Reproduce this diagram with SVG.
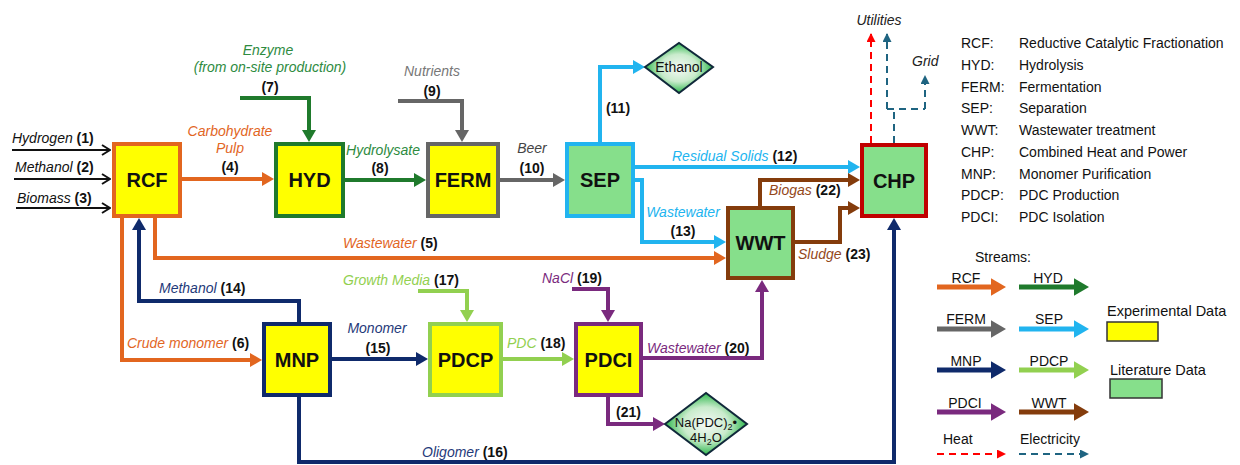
<svg xmlns="http://www.w3.org/2000/svg" width="1240" height="465" viewBox="0 0 1240 465">
<style>
.box{stroke-width:4}
.exp{fill:#FFFF00}
.lit{fill:#86DF8B}
.nt{font:bold 20px 'Liberation Sans',Arial,sans-serif;text-anchor:middle;fill:#111}
.lb{font:italic 14px 'Liberation Sans',Arial,sans-serif}
.mid{text-anchor:middle}
.n{font-style:normal;font-weight:bold;fill:#111}
.f{fill:none;stroke-width:4;stroke-linejoin:miter}
.thin{fill:none;stroke:#111;stroke-width:2}
.dash{fill:none;stroke-width:2;stroke-dasharray:7,5}
.lg{font:14px 'Liberation Sans',Arial,sans-serif;fill:#111}
.dt{font:13px 'Liberation Sans',Arial,sans-serif;fill:#111;text-anchor:middle}
.la{fill:none;stroke-width:5}
</style>
<defs>
<marker id="m-rcf" viewBox="0 0 3 3.5" refX="2" refY="1.75" markerWidth="3" markerHeight="3.5" orient="auto" markerUnits="strokeWidth"><path d="M0,0L3,1.75L0,3.5z" fill="#E2661F"/></marker>
<marker id="m-hyd" viewBox="0 0 3 3.5" refX="2" refY="1.75" markerWidth="3" markerHeight="3.5" orient="auto" markerUnits="strokeWidth"><path d="M0,0L3,1.75L0,3.5z" fill="#1F7A2C"/></marker>
<marker id="m-ferm" viewBox="0 0 3 3.5" refX="2" refY="1.75" markerWidth="3" markerHeight="3.5" orient="auto" markerUnits="strokeWidth"><path d="M0,0L3,1.75L0,3.5z" fill="#666666"/></marker>
<marker id="m-sep" viewBox="0 0 3 3.5" refX="2" refY="1.75" markerWidth="3" markerHeight="3.5" orient="auto" markerUnits="strokeWidth"><path d="M0,0L3,1.75L0,3.5z" fill="#21B4EF"/></marker>
<marker id="m-mnp" viewBox="0 0 3 3.5" refX="2" refY="1.75" markerWidth="3" markerHeight="3.5" orient="auto" markerUnits="strokeWidth"><path d="M0,0L3,1.75L0,3.5z" fill="#0F2A6B"/></marker>
<marker id="m-pdcp" viewBox="0 0 3 3.5" refX="2" refY="1.75" markerWidth="3" markerHeight="3.5" orient="auto" markerUnits="strokeWidth"><path d="M0,0L3,1.75L0,3.5z" fill="#92D050"/></marker>
<marker id="m-pdci" viewBox="0 0 3 3.5" refX="2" refY="1.75" markerWidth="3" markerHeight="3.5" orient="auto" markerUnits="strokeWidth"><path d="M0,0L3,1.75L0,3.5z" fill="#7A2A7E"/></marker>
<marker id="m-wwt" viewBox="0 0 3 3.5" refX="2" refY="1.75" markerWidth="3" markerHeight="3.5" orient="auto" markerUnits="strokeWidth"><path d="M0,0L3,1.75L0,3.5z" fill="#843C0C"/></marker>
<marker id="m-heat" viewBox="0 0 9 9" refX="8" refY="4.5" markerWidth="9" markerHeight="9" orient="auto" markerUnits="userSpaceOnUse"><path d="M0,0L9,4.5L0,9z" fill="#FF0000"/></marker>
<marker id="m-elec" viewBox="0 0 9 9" refX="8" refY="4.5" markerWidth="9" markerHeight="9" orient="auto" markerUnits="userSpaceOnUse"><path d="M0,0L9,4.5L0,9z" fill="#1F6481"/></marker>
<marker id="m-in" viewBox="0 0 10 12" refX="9" refY="6" markerWidth="10" markerHeight="12" orient="auto" markerUnits="userSpaceOnUse"><path d="M1,1L9,6L1,11" fill="none" stroke="#111" stroke-width="2"/></marker>
<radialGradient id="dg" cx="50%" cy="50%" r="50%">
<stop offset="0" stop-color="#F6F9F6"/>
<stop offset="0.55" stop-color="#C9EBCC"/>
<stop offset="1" stop-color="#2DB84C"/>
</radialGradient>
</defs>

<g id="connectors">
<path class="thin" d="M12,150H110" marker-end="url(#m-in)"/>
<path class="thin" d="M14,179H110" marker-end="url(#m-in)"/>
<path class="thin" d="M16,208H110" marker-end="url(#m-in)"/>
<path class="f" stroke="#E2661F" d="M182,179H270" marker-end="url(#m-rcf)"/>
<path class="f" stroke="#1F7A2C" d="M240,98H309V138" marker-end="url(#m-hyd)"/>
<path class="f" stroke="#1F7A2C" d="M345,180H422" marker-end="url(#m-hyd)"/>
<path class="f" stroke="#666666" d="M398,101H462V138" marker-end="url(#m-ferm)"/>
<path class="f" stroke="#666666" d="M500,180H561" marker-end="url(#m-ferm)"/>
<path class="f" stroke="#21B4EF" d="M600,142V67H641" marker-end="url(#m-sep)"/>
<path class="f" stroke="#21B4EF" d="M635,167H856" marker-end="url(#m-sep)"/>
<path class="f" stroke="#21B4EF" d="M635,180H642V242H722" marker-end="url(#m-sep)"/>
<path class="f" stroke="#E2661F" d="M155,218V258H722" marker-end="url(#m-rcf)"/>
<path class="f" stroke="#E2661F" d="M122,218V360H258" marker-end="url(#m-rcf)"/>
<path class="f" stroke="#0F2A6B" d="M299,322V301H139V222" marker-end="url(#m-mnp)"/>
<path class="f" stroke="#0F2A6B" d="M332,359H424" marker-end="url(#m-mnp)"/>
<path class="f" stroke="#0F2A6B" d="M299,397V462H894V222" marker-end="url(#m-mnp)"/>
<path class="f" stroke="#92D050" d="M418,291H467V318" marker-end="url(#m-pdcp)"/>
<path class="f" stroke="#92D050" d="M503,359H570" marker-end="url(#m-pdcp)"/>
<path class="f" stroke="#7A2A7E" d="M572,289H608V318" marker-end="url(#m-pdci)"/>
<path class="f" stroke="#7A2A7E" d="M643,358H762V284" marker-end="url(#m-pdci)"/>
<path class="f" stroke="#7A2A7E" d="M608,397V424H661" marker-end="url(#m-pdci)"/>
<path class="f" stroke="#843C0C" d="M760,206V180H856" marker-end="url(#m-wwt)"/>
<path class="f" stroke="#843C0C" d="M795,242H840V208H856" marker-end="url(#m-wwt)"/>
<path class="dash" stroke="#FF0000" d="M871,143V34" marker-end="url(#m-heat)"/>
<path class="dash" stroke="#1F6481" d="M894,143V109"/>
<path class="dash" stroke="#1F6481" d="M887,109H925"/>
<path class="dash" stroke="#1F6481" d="M887,109V34" marker-end="url(#m-elec)"/>
<path class="dash" stroke="#1F6481" d="M925,109V76" marker-end="url(#m-elec)"/>
</g>

<g id="stream-labels">
<text class="lb" x="12" y="143" fill="#111">Hydrogen <tspan class="n">(1)</tspan></text>
<text class="lb" x="15" y="172" fill="#111">Methanol <tspan class="n">(2)</tspan></text>
<text class="lb" x="17" y="203" fill="#111">Biomass <tspan class="n">(3)</tspan></text>
<text class="lb mid" x="230" y="136" fill="#E2661F">Carbohydrate</text>
<text class="lb mid" x="230" y="153" fill="#E2661F">Pulp</text>
<text class="lb mid n" x="230" y="172">(4)</text>
<text class="lb mid" x="268" y="55" fill="#2E8B3F">Enzyme</text>
<text class="lb mid" x="270" y="72" fill="#2E8B3F">(from on-site production)</text>
<text class="lb mid n" x="270" y="92">(7)</text>
<text class="lb mid" x="383" y="155" fill="#2E8B3F">Hydrolysate</text>
<text class="lb mid n" x="380" y="173">(8)</text>
<text class="lb mid" x="432" y="76" fill="#777777">Nutrients</text>
<text class="lb mid n" x="432" y="96">(9)</text>
<text class="lb mid" x="532" y="153" fill="#444444">Beer</text>
<text class="lb mid n" x="532" y="173">(10)</text>
<text class="lb mid n" x="618" y="113">(11)</text>
<text class="lb" x="672" y="161" fill="#21B4EF">Residual Solids <tspan class="n">(12)</tspan></text>
<text class="lb mid" x="683" y="217" fill="#21B4EF">Wastewater</text>
<text class="lb mid n" x="683" y="236">(13)</text>
<text class="lb" x="343" y="248" fill="#E2661F">Wastewater <tspan class="n">(5)</tspan></text>
<text class="lb" x="769" y="195" fill="#93471A">Biogas <tspan class="n">(22)</tspan></text>
<text class="lb" x="798" y="259" fill="#93471A">Sludge <tspan class="n">(23)</tspan></text>
<text class="lb mid" x="879" y="25" fill="#222">Utilities</text>
<text class="lb" x="912" y="66" fill="#222">Grid</text>
<text class="lb" x="159" y="293" fill="#1F3A7A">Methanol <tspan class="n">(14)</tspan></text>
<text class="lb" x="127" y="348" fill="#E2661F">Crude monomer <tspan class="n">(6)</tspan></text>
<text class="lb mid" x="377" y="333" fill="#1F3A7A">Monomer</text>
<text class="lb mid n" x="378" y="353">(15)</text>
<text class="lb" x="343" y="285" fill="#92D050">Growth Media <tspan class="n">(17)</tspan></text>
<text class="lb" x="507" y="348" fill="#92D050">PDC <tspan class="n">(18)</tspan></text>
<text class="lb" x="542" y="283" fill="#7A2A7E">NaCl <tspan class="n">(19)</tspan></text>
<text class="lb" x="647" y="353" fill="#7A2A7E">Wastewater <tspan class="n">(20)</tspan></text>
<text class="lb n" x="616" y="417">(21)</text>
<text class="lb" x="422" y="457" fill="#1F3A7A">Oligomer <tspan class="n">(16)</tspan></text>
</g>

<g id="RCF"><rect class="box exp" x="114" y="144" width="66" height="72" stroke="#E2661F"/><text class="nt" x="147" y="187">RCF</text></g>
<g id="HYD"><rect class="box exp" x="276" y="144" width="67" height="72" stroke="#1F7A2C"/><text class="nt" x="309.5" y="187">HYD</text></g>
<g id="FERM"><rect class="box exp" x="428" y="144" width="70" height="72" stroke="#666666"/><text class="nt" x="463" y="187">FERM</text></g>
<g id="SEP"><rect class="box lit" x="567" y="144" width="66" height="72" stroke="#21B4EF"/><text class="nt" x="600" y="187">SEP</text></g>
<g id="CHP"><rect class="box lit" x="862" y="145" width="64" height="71" stroke="#C00000"/><text class="nt" x="894" y="188">CHP</text></g>
<g id="WWT"><rect class="box lit" x="728" y="208" width="65" height="70" stroke="#843C0C"/><text class="nt" x="760.5" y="250">WWT</text></g>
<g id="MNP"><rect class="box exp" x="264" y="324" width="66" height="71" stroke="#0F2A6B"/><text class="nt" x="297" y="367">MNP</text></g>
<g id="PDCP"><rect class="box exp" x="430" y="324" width="71" height="71" stroke="#92D050"/><text class="nt" x="465.5" y="367">PDCP</text></g>
<g id="PDCI"><rect class="box exp" x="576" y="324" width="65" height="71" stroke="#7A2A7E"/><text class="nt" x="608.5" y="367">PDCI</text></g>
<g id="Ethanol"><polygon points="645,67 679,43 713,67 679,93" fill="url(#dg)" stroke="#10283A" stroke-width="2"/><text class="dt" x="679" y="72" style="font-size:14px">Ethanol</text></g>
<g id="NaPDC"><polygon points="665,424 706,393 747,424 706,455" fill="url(#dg)" stroke="#10283A" stroke-width="2"/><text class="dt" x="706" y="427">Na(PDC)<tspan font-size="9" dy="3">2</tspan><tspan dy="-3">•</tspan></text><text class="dt" x="706" y="442">4H<tspan font-size="9" dy="3">2</tspan><tspan dy="-3">O</tspan></text></g>

<g id="legend">
<text class="lg" x="961" y="48">RCF:</text><text class="lg" x="1019" y="48">Reductive Catalytic Fractionation</text>
<text class="lg" x="961" y="70">HYD:</text><text class="lg" x="1019" y="70">Hydrolysis</text>
<text class="lg" x="961" y="92">FERM:</text><text class="lg" x="1019" y="92">Fermentation</text>
<text class="lg" x="961" y="113">SEP:</text><text class="lg" x="1019" y="113">Separation</text>
<text class="lg" x="961" y="135">WWT:</text><text class="lg" x="1019" y="135">Wastewater treatment</text>
<text class="lg" x="961" y="157">CHP:</text><text class="lg" x="1019" y="157">Combined Heat and Power</text>
<text class="lg" x="961" y="179">MNP:</text><text class="lg" x="1019" y="179">Monomer Purification</text>
<text class="lg" x="961" y="200">PDCP:</text><text class="lg" x="1019" y="200">PDC Production</text>
<text class="lg" x="961" y="222">PDCI:</text><text class="lg" x="1019" y="222">PDC Isolation</text>
<text class="lg" x="975" y="262">Streams:</text>
<text class="lg mid" x="966" y="283">RCF</text><path class="la" stroke="#E2661F" d="M937,287H1001" marker-end="url(#m-rcf)"/>
<text class="lg mid" x="1048" y="283">HYD</text><path class="la" stroke="#1F7A2C" d="M1019,287H1084" marker-end="url(#m-hyd)"/>
<text class="lg mid" x="966" y="324">FERM</text><path class="la" stroke="#666666" d="M937,329H1001" marker-end="url(#m-ferm)"/>
<text class="lg mid" x="1049" y="324">SEP</text><path class="la" stroke="#21B4EF" d="M1019,329H1084" marker-end="url(#m-sep)"/>
<text class="lg mid" x="966" y="366">MNP</text><path class="la" stroke="#0F2A6B" d="M937,370H1001" marker-end="url(#m-mnp)"/>
<text class="lg mid" x="1049" y="366">PDCP</text><path class="la" stroke="#92D050" d="M1019,370H1084" marker-end="url(#m-pdcp)"/>
<text class="lg mid" x="965" y="408">PDCI</text><path class="la" stroke="#7A2A7E" d="M937,412H1001" marker-end="url(#m-pdci)"/>
<text class="lg mid" x="1049" y="408">WWT</text><path class="la" stroke="#843C0C" d="M1019,412H1084" marker-end="url(#m-wwt)"/>
<text class="lg" x="943" y="444">Heat</text><path class="dash" stroke="#FF0000" d="M937,454H1005" marker-end="url(#m-heat)"/>
<text class="lg" x="1020" y="444">Electricity</text><path class="dash" stroke="#1F6481" d="M1019,454H1088" marker-end="url(#m-elec)"/>
<text class="lg" x="1107" y="316" style="font-size:14.5px">Experimental Data</text>
<rect class="exp" x="1107" y="322" width="51" height="19" stroke="#333" stroke-width="1.5"/>
<text class="lg" x="1110" y="375" style="font-size:14.5px">Literature Data</text>
<rect class="lit" x="1110" y="379" width="52" height="19" stroke="#333" stroke-width="1.5"/>
</g>
</svg>
